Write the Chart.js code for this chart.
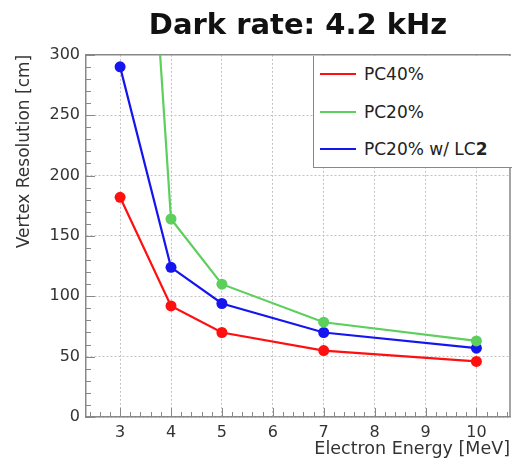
<!DOCTYPE html>
<html>
<head>
<meta charset="utf-8">
<script src="https://cdn.jsdelivr.net/npm/chart.js@4.4.0/dist/chart.umd.min.js"></script>
<style>
  body { margin: 0; background: #fff; }
  #wrap { position: relative; width: 512px; height: 460px; }
  #legend {
    position: absolute; left: 313px; top: 56px; width: 200px; height: 111px;
    border-left: 1.5px solid #888; border-bottom: 1.5px solid #888;
    background: #fff; font-family: "DejaVu Sans"; font-size: 17px; color: #222;
  }
  .row { position: absolute; left: 6px; height: 22px; display: flex; align-items: center; white-space: nowrap; }
  .swatch { width: 36px; height: 2px; margin-right: 8px; }
</style>
</head>
<body>
<div id="wrap">
  <canvas id="myChart" width="512" height="460"></canvas>
  <div id="legend">
    <div class="row" style="top:7px"><span class="swatch" style="background:#ff1010"></span>PC40%</div>
    <div class="row" style="top:45px"><span class="swatch" style="background:#5ccf5c"></span>PC20%</div>
    <div class="row" style="top:82px"><span class="swatch" style="background:#1515f0"></span>PC20% w/ LC<b>2</b></div>
  </div>
</div>
<script>
const energies = [3, 4, 5, 7, 10];
const pc40 = [182, 92, 70, 55, 46];
const pc20 = [800, 164, 110, 78.5, 63];
const pc20lc = [290, 124, 94, 70, 57];

const xTicks = [3, 4, 5, 6, 7, 8, 9, 10];

const points = (ys) => energies.map((x, i) => ({ x: x, y: ys[i] }));

const series = (label, ys, color) => ({
  label: label,
  data: points(ys),
  borderColor: color,
  backgroundColor: color,
  borderWidth: 2.2,
  pointRadius: 5.5,
  pointBorderWidth: 0,
  pointBackgroundColor: color,
  tension: 0,
  fill: false,
});

// ROOT-style frame and inward minor/major ticks
const frame = {
  id: "frame",
  beforeDatasetsDraw(chart) {
    const { ctx, chartArea: a, scales: { x, y } } = chart;
    ctx.save();
    ctx.strokeStyle = "#888";
    ctx.lineWidth = 1;
    ctx.beginPath();
    for (let v = 0; v <= 300; v += 10) {
      const py = Math.round(y.getPixelForValue(v)) + 0.5;
      const len = v % 50 === 0 ? 9 : 5;
      ctx.moveTo(a.left, py);
      ctx.lineTo(a.left + len, py);
    }
    for (let k = 12; k <= 53; k++) {
      const v = k / 5;
      const px = Math.round(x.getPixelForValue(v)) + 0.5;
      const len = k % 5 === 0 ? 9 : 5;
      ctx.moveTo(px, a.bottom);
      ctx.lineTo(px, a.bottom - len);
    }
    ctx.stroke();
    ctx.lineWidth = 1.5;
    ctx.beginPath();
    ctx.moveTo(a.left, a.top);
    ctx.lineTo(a.right, a.top);
    ctx.lineTo(a.right, a.bottom);
    ctx.stroke();
    ctx.restore();
  },
};

const ctx = document.getElementById("myChart").getContext("2d");

new Chart(ctx, {
  type: "line",
  data: {
    datasets: [
      series("PC40%", pc40, "#ff1010"),
      series("PC20%", pc20, "#5ccf5c"),
      series("PC20% w/ LC2", pc20lc, "#1515f0"),
    ],
  },
  options: {
    responsive: false,
    animation: false,
    layout: { autoPadding: false, padding: { top: 0, right: 2, left: 0, bottom: 0 } },
    plugins: {
      legend: { display: false },
      tooltip: { enabled: false },
      title: {
        display: true,
        text: "Dark rate: 4.2 kHz",
        fullSize: false,
        color: "#111",
        font: { family: "DejaVu Sans", size: 29, weight: "bold" },
        padding: { top: 9, bottom: 11 },
      },
    },
    scales: {
      x: {
        type: "linear",
        min: 2.33,
        max: 10.66,
        afterFit: (s) => { s.height = 43; },
        ticks: {
          stepSize: 1,
          includeBounds: false,
          padding: 6,
          color: "#333",
          font: { family: "DejaVu Sans", size: 16 },
          callback: (v) => (xTicks.includes(v) ? v : ""),
        },
        grid: { color: "#c4c4c4", lineWidth: 1, drawTicks: false },
        border: { color: "#888", width: 1.5, dash: [2, 2] },
        title: {
          display: true,
          text: "Electron Energy [MeV]",
          align: "end",
          color: "#333",
          font: { family: "DejaVu Sans", size: 17.5 },
          padding: { top: 0, bottom: 0 },
        },
      },
      y: {
        min: 0,
        max: 300,
        afterFit: (s) => { s.width = 86; },
        ticks: {
          stepSize: 50,
          padding: 6,
          color: "#333",
          font: { family: "DejaVu Sans", size: 16 },
        },
        grid: { color: "#c4c4c4", lineWidth: 1, drawTicks: false },
        border: { color: "#888", width: 1.5, dash: [2, 2] },
        title: {
          display: true,
          text: "Vertex Resolution [cm]",
          align: "end",
          color: "#333",
          font: { family: "DejaVu Sans", size: 17 },
          padding: { top: 14, bottom: 0 },
        },
      },
    },
  },
  plugins: [frame],
});
</script>
</body>
</html>
